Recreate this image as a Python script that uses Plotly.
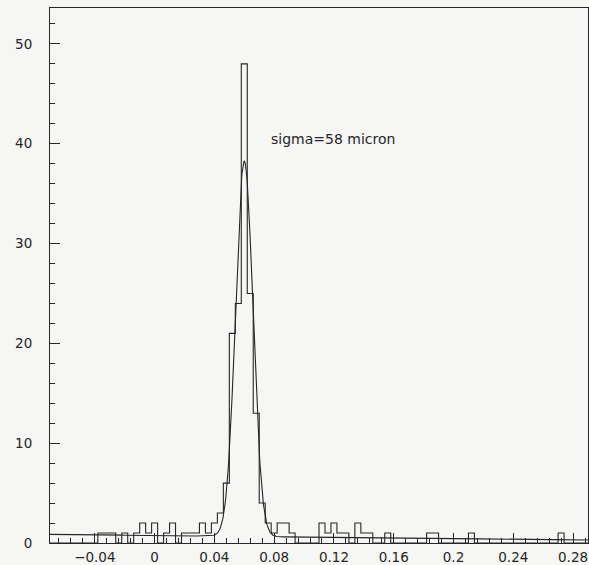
import numpy as np
import plotly.graph_objects as go

# Histogram binning (x in cm)
x_min = -0.07
bin_width = 0.004
n_bins = 90

# Counts per bin, bin k covers [x_min + k*w, x_min + (k+1)*w]
counts = [
    0, 0, 0, 0, 0, 0, 0, 0, 1, 1,   # 0-9
    1, 0, 1, 0, 1, 2, 1, 2, 0, 1,   # 10-19
    2, 0, 1, 1, 1, 2, 1, 2, 3, 6,   # 20-29
    21, 24, 48, 25, 13, 4, 2, 1, 2, 2,  # 30-39
    1, 0, 0, 0, 0, 2, 1, 2, 1, 1,   # 40-49
    0, 2, 1, 1, 0, 0, 1, 0, 0, 0,   # 50-59
    0, 0, 0, 1, 1, 0, 0, 0, 0, 0,   # 60-69
    1, 0, 0, 0, 0, 0, 0, 0, 0, 0,   # 70-79
    0, 0, 0, 0, 0, 1, 0, 0, 0, 0,   # 80-89
]

# Gaussian fit parameters with a linear background
fit_amplitude = 37.6
fit_mean = 0.0600
fit_sigma = 0.0058
bg_left = 0.86
bg_slope = -1.55

x_ticks = [-0.04, 0, 0.04, 0.08, 0.12, 0.16, 0.2, 0.24, 0.28]
y_ticks = [0, 10, 20, 30, 40, 50]
label_text = "sigma=58 micron"

edges = [x_min + i * bin_width for i in range(n_bins + 1)]
hist_y = counts + [counts[-1]]

xf = np.linspace(x_min, x_min + n_bins * bin_width, 1441)
yf = fit_amplitude * np.exp(-0.5 * ((xf - fit_mean) / fit_sigma) ** 2) + bg_left + bg_slope * (xf - x_min)

ink = "#262626"
bg = "#f6f6f4"
fig = go.Figure()
fig.add_trace(go.Scatter(x=edges, y=hist_y, mode="lines", line=dict(shape="hv", color=ink, width=1.1),
                         hoverinfo="skip", showlegend=False))
fig.add_trace(go.Scatter(x=xf, y=yf, mode="lines", line=dict(color=ink, width=1.1),
                         hoverinfo="skip", showlegend=False))

fig.add_annotation(x=0.0766, y=40.5, text=label_text, showarrow=False, xanchor="left", yanchor="middle",
                   font=dict(family="DejaVu Sans", size=14, color=ink))

fig.update_layout(
    width=589, height=565,
    margin=dict(l=50, r=0, t=8, b=18),
    paper_bgcolor=bg, plot_bgcolor=bg,
    font=dict(family="DejaVu Sans", size=13.5, color=ink),
    showlegend=False,
)
fig.update_xaxes(range=[x_min, x_min + n_bins * bin_width], tickvals=x_ticks, ticks="inside", ticklen=10,
                 tickcolor=ink, showline=True, linecolor=ink, linewidth=1, mirror=True, showgrid=False,
                 zeroline=False, minor=dict(dtick=0.008, tick0=0, ticks="inside", ticklen=5, tickcolor=ink),
                 ticklabelstandoff=2)
fig.update_yaxes(range=[0, 53.6], tickvals=y_ticks, ticks="inside", ticklen=10, tickcolor=ink,
                 showline=True, linecolor=ink, linewidth=1, mirror=True, showgrid=False, zeroline=False,
                 minor=dict(dtick=2, ticks="inside", ticklen=5, tickcolor=ink), ticklabelstandoff=14)

fig.write_html("out.html")
